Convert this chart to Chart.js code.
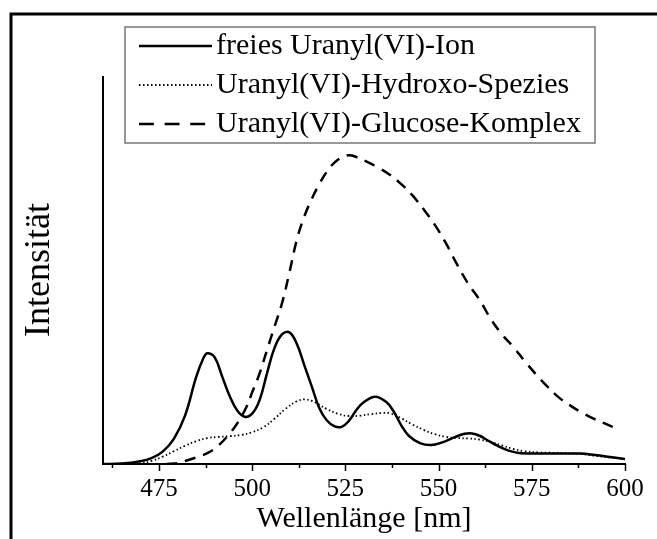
<!DOCTYPE html>
<html lang="de">
<head>
    <meta charset="UTF-8">
    <title>Uranyl(VI) Lumineszenz</title>
    <script src="https://cdn.jsdelivr.net/npm/chart.js"></script>
    <style>
        html, body {
            margin: 0;
            padding: 0;
            background: #fff;
        }

        .chart-container {
            position: relative;
            width: 657px;
            height: 539px;
        }
    </style>
</head>
<body>
    <div class="chart-container">
        <canvas id="spectraChart" width="657" height="539"></canvas>
    </div>

    <script>
        // Data (intensity in arbitrary units, 0..100)
        const ionWavelength = [460, 465, 470, 473, 476, 479, 482, 485, 487, 488, 490, 492, 494, 496, 498, 500, 502, 504, 506, 508, 510, 512, 514, 516, 518, 520, 522, 524, 526, 528, 530, 533, 536, 538, 540, 542, 545, 548, 551, 554, 557, 559, 561, 563, 566, 569, 572, 580, 588, 592, 596, 600];
        const ionIntensity = [0.0, 0.1, 0.7, 1.5, 3.2, 6.5, 12.5, 22.5, 27.5, 28.6, 27.5, 22.5, 17.5, 13.8, 12.2, 13.0, 16.5, 23.5, 30.0, 33.5, 34.0, 31.0, 25.5, 20.0, 14.5, 11.3, 9.8, 9.6, 11.2, 14.0, 16.0, 17.4, 16.0, 13.5, 10.0, 7.3, 5.4, 4.9, 5.6, 6.8, 7.8, 7.9, 7.3, 6.2, 4.6, 3.4, 2.8, 2.7, 2.7, 2.3, 1.8, 1.3];

        const hydroxoWavelength = [460, 466, 470, 473, 476, 479, 482, 485, 488, 491, 494, 497, 500, 503, 506, 509, 512, 514, 516, 518, 520, 523, 526, 529, 532, 535, 537, 540, 543, 546, 549, 552, 555, 558, 561, 564, 567, 570, 573, 577, 584, 588, 592, 596, 600];
        const hydroxoIntensity = [0.0, 0.05, 0.2, 0.8, 1.9, 3.3, 4.7, 5.9, 6.7, 7.0, 7.2, 7.5, 8.2, 9.5, 11.7, 14.3, 16.2, 16.7, 16.3, 15.3, 14.2, 13.0, 12.4, 12.5, 12.9, 13.2, 13.1, 11.8, 10.2, 8.8, 7.7, 7.0, 6.7, 6.6, 6.3, 5.7, 4.8, 3.9, 3.3, 3.0, 2.8, 2.6, 2.1, 1.7, 1.3];

        const glucoseWavelength = [477, 480, 482.5, 485, 488, 491, 494, 496, 498.5, 500, 502, 504, 506, 508, 510, 512, 514, 516, 518, 520, 522, 524, 526, 528, 531, 534, 537, 540, 543, 546, 549, 552, 555, 558, 561, 564, 567, 570, 573, 576, 579, 582, 585, 588, 591, 594, 597];
        const glucoseIntensity = [0.0, 0.2, 0.9, 1.7, 2.8, 4.8, 7.9, 10.5, 14.8, 18.5, 23.4, 29.5, 35.5, 41.5, 49.5, 58.0, 64.0, 68.5, 72.3, 75.5, 77.8, 79.2, 79.8, 79.3, 78.0, 76.5, 74.7, 72.3, 69.4, 65.8, 61.8, 57.0, 51.5, 46.5, 42.4, 37.5, 33.5, 30.3, 26.7, 23.3, 20.2, 17.4, 15.3, 13.5, 12.0, 10.7, 9.5];

        const seriesLabels = ['freies Uranyl(VI)-Ion', 'Uranyl(VI)-Hydroxo-Spezies', 'Uranyl(VI)-Glucose-Komplex'];
        const majorTicks = [475, 500, 525, 550, 575, 600];
        const minorTicks = [462.5, 487.5, 512.5, 537.5, 562.5, 587.5];
        const yTitle = 'Intensität';

        const serif = "'Liberation Serif', 'Times New Roman', serif";

        function toPoints(xs, ys) {
            return xs.map((x, i) => ({ x: x, y: ys[i] }));
        }

        // frame, tick marks, y title and boxed legend
        const decorations = {
            id: 'decorations',
            afterDraw(chart) {
                const ctx = chart.ctx;
                const xScale = chart.scales.x;
                const axisY = chart.chartArea.bottom;
                ctx.save();

                // picture frame (top + left)
                ctx.strokeStyle = '#000';
                ctx.lineWidth = 3;
                ctx.beginPath();
                ctx.moveTo(11, 539);
                ctx.lineTo(11, 14);
                ctx.lineTo(657, 14);
                ctx.stroke();

                // tick marks below the axis
                ctx.lineWidth = 1.5;
                majorTicks.forEach(v => {
                    const px = Math.round(xScale.getPixelForValue(v)) + 0.5;
                    ctx.beginPath();
                    ctx.moveTo(px, axisY);
                    ctx.lineTo(px, axisY + 7);
                    ctx.stroke();
                });
                minorTicks.forEach(v => {
                    const px = Math.round(xScale.getPixelForValue(v)) + 0.5;
                    ctx.beginPath();
                    ctx.moveTo(px, axisY);
                    ctx.lineTo(px, axisY + 4);
                    ctx.stroke();
                });

                // rotated y title
                ctx.save();
                ctx.translate(49, 270);
                ctx.rotate(-Math.PI / 2);
                ctx.font = '36px ' + serif;
                ctx.fillStyle = '#000';
                ctx.textAlign = 'center';
                ctx.textBaseline = 'alphabetic';
                ctx.fillText(yTitle, 0, 0);
                ctx.restore();

                // legend box
                const box = { left: 125, top: 27, right: 595, bottom: 143 };
                ctx.fillStyle = '#fff';
                ctx.fillRect(box.left, box.top, box.right - box.left, box.bottom - box.top);
                ctx.strokeStyle = '#777';
                ctx.lineWidth = 1.5;
                ctx.strokeRect(box.left, box.top, box.right - box.left, box.bottom - box.top);

                ctx.font = '30px ' + serif;
                ctx.textBaseline = 'middle';
                ctx.textAlign = 'left';
                chart.data.datasets.forEach((ds, i) => {
                    const y = 46 + i * 39;
                    const dash = (ds.borderDash || []).map(d => d > 5 ? d * 1.35 : d);
                    ctx.strokeStyle = '#000';
                    ctx.lineWidth = ds.borderWidth;
                    ctx.setLineDash(dash);
                    ctx.beginPath();
                    ctx.moveTo(139, y);
                    ctx.lineTo(212, y);
                    ctx.stroke();
                    ctx.setLineDash([]);
                    ctx.fillStyle = '#000';
                    ctx.fillText(ds.label, 216, y);
                });
                ctx.restore();
            }
        };

        const ctx = document.getElementById('spectraChart').getContext('2d');
        const spectraChart = new Chart(ctx, {
            type: 'line',
            data: {
                datasets: [{
                    label: seriesLabels[0],
                    data: toPoints(ionWavelength, ionIntensity),
                    borderColor: '#000',
                    borderWidth: 2.5,
                    pointRadius: 0,
                    tension: 0.4
                }, {
                    label: seriesLabels[1],
                    data: toPoints(hydroxoWavelength, hydroxoIntensity),
                    borderColor: '#000',
                    borderWidth: 1.8,
                    borderDash: [1.5, 2.5],
                    pointRadius: 0,
                    tension: 0.4
                }, {
                    label: seriesLabels[2],
                    data: toPoints(glucoseWavelength, glucoseIntensity),
                    borderColor: '#000',
                    borderWidth: 2.5,
                    borderDash: [11, 8],
                    pointRadius: 0,
                    tension: 0.4
                }]
            },
            options: {
                responsive: false,
                animation: false,
                layout: {
                    padding: { left: 10, top: 77, right: 32, bottom: 0 }
                },
                plugins: {
                    legend: { display: false },
                    tooltip: { enabled: false }
                },
                scales: {
                    x: {
                        type: 'linear',
                        min: 460,
                        max: 600,
                        afterBuildTicks: scale => {
                            scale.ticks = majorTicks.map(v => ({ value: v }));
                        },
                        afterFit: scale => {
                            scale.height = 75;
                        },
                        grid: { display: false },
                        border: { display: true, color: '#000', width: 2 },
                        ticks: {
                            color: '#000',
                            padding: 2,
                            maxRotation: 0,
                            font: { family: serif, size: 25 }
                        },
                        title: {
                            display: true,
                            text: 'Wellenlänge [nm]',
                            color: '#000',
                            padding: { top: 0, bottom: 2 },
                            font: { family: serif, size: 30 }
                        }
                    },
                    y: {
                        min: 0,
                        max: 100,
                        afterFit: scale => {
                            scale.width = 93;
                        },
                        grid: { display: false },
                        border: { display: true, color: '#000', width: 2 },
                        ticks: { display: false }
                    }
                }
            },
            plugins: [decorations]
        });
    </script>
</body>
</html>
